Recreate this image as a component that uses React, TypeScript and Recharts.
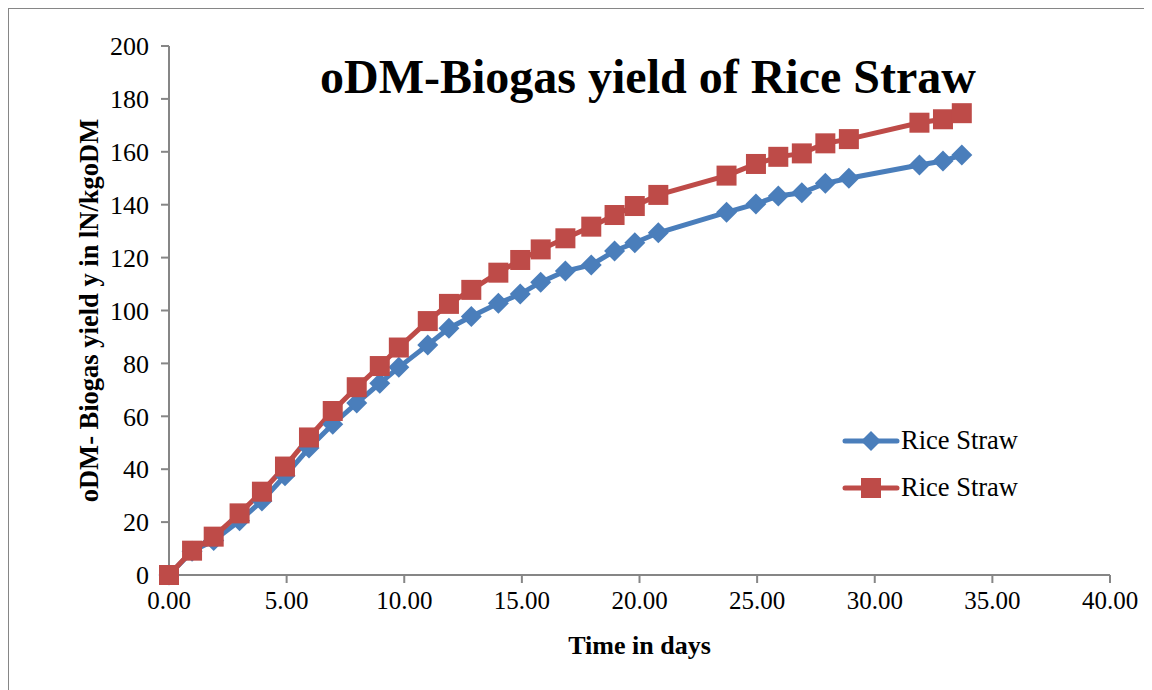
import { LineChart, Line, XAxis, YAxis } from "recharts";

const days = [
  0, 0.98, 1.9, 3.0, 3.95, 4.93, 5.95, 6.96, 7.98, 8.96, 9.77, 11.0, 11.9, 12.85, 14.0, 14.93,
  15.8, 16.85, 17.95, 18.94, 19.8, 20.8, 23.7, 24.95, 25.9, 26.9, 27.9, 28.9, 31.9, 32.9, 33.7,
];
const blueYield = [
  0, 9, 13, 20.5, 28, 37.5, 48, 57, 65, 72.5, 78.5, 87, 93.3, 97.7, 102.7, 106.2, 110.7, 114.9,
  117.2, 122.5, 125.6, 129.4, 137.1, 140.3, 143.3, 144.5, 148.1, 150, 155, 156.5, 158.8,
];
const redYield = [
  0, 9.2, 14.5, 23.3, 31.5, 41, 52, 62, 71, 79, 86, 96, 102.5, 107.8, 114.3, 119.1, 123.1, 127.3,
  131.7, 136.1, 139.5, 143.7, 151, 155.4, 158.1, 159.4, 163.2, 164.8, 171, 172.3, 174.6,
];
const xTicks = [0, 5, 10, 15, 20, 25, 30, 35, 40];
const yTicks = [0, 20, 40, 60, 80, 100, 120, 140, 160, 180, 200];

const data = days.map((d, i) => ({ day: d, blue: blueYield[i], red: redYield[i] }));

const BLUE = "#4a7ebb";
const RED = "#be4b48";
const AXIS = "#868686";
const FONT = '"Liberation Serif", "Times New Roman", serif';

function Diamond({ cx, cy }: { cx?: number; cy?: number }) {
  if (cx == null || cy == null) return null;
  const r = 10.5;
  return (
    <polygon
      points={`${cx},${cy - r} ${cx + r},${cy} ${cx},${cy + r} ${cx - r},${cy}`}
      fill={BLUE}
    />
  );
}

function Square({ cx, cy }: { cx?: number; cy?: number }) {
  if (cx == null || cy == null) return null;
  return <rect x={cx - 10} y={cy - 10} width={20} height={20} fill={RED} />;
}

function LegendBox() {
  const rows = [
    { color: BLUE, shape: "diamond" },
    { color: RED, shape: "square" },
  ];
  return (
    <div style={{ fontFamily: FONT, fontSize: 26.5, color: "#000" }}>
      {rows.map((r) => (
        <div key={r.shape} style={{ display: "flex", alignItems: "center", height: 47 }}>
          <svg width={58} height={22} style={{ marginRight: 1 }}>
            <line x1={3} y1={11} x2={55} y2={11} stroke={r.color} strokeWidth={5} strokeLinecap="round" />
            {r.shape === "diamond" ? (
              <polygon points="29,1 39,11 29,21 19,11" fill={r.color} />
            ) : (
              <rect x={19} y={1} width={20} height={20} fill={r.color} />
            )}
          </svg>
          <span>Rice Straw</span>
        </div>
      ))}
    </div>
  );
}

export default function App() {
  return (
    <div
      style={{
        position: "relative",
        width: 1141,
        height: 700,
        border: `1px solid ${AXIS}`,
        background: "#fff",
        fontFamily: FONT,
      }}
    >
      <div
        style={{
          position: "absolute",
          left: 0,
          width: 1278,
          top: 40,
          textAlign: "center",
          fontSize: 48,
          fontWeight: "bold",
          lineHeight: "56px",
          color: "#000",
          zIndex: 2,
        }}
      >
        oDM-Biogas yield of Rice Straw
      </div>
      <div style={{ position: "absolute", left: 833, top: 408, zIndex: 2 }}>
        <LegendBox />
      </div>
      <LineChart
        width={1141}
        height={680}
        data={data}
        margin={{ top: 37, right: 40, left: 0, bottom: 34 }}
      >
        <XAxis
          dataKey="day"
          type="number"
          domain={[0, 40]}
          ticks={xTicks}
          tickFormatter={(v: number) => v.toFixed(2)}
          stroke={AXIS}
          strokeWidth={2}
          tickSize={8}
          tickMargin={8}
          tick={{ fill: "#000", fontSize: 25, fontFamily: FONT }}
          height={80}
          label={{
            content: ({ viewBox }: any) => (
              <text
                x={viewBox.x + viewBox.width / 2}
                y={viewBox.y + 79}
                textAnchor="middle"
                fontFamily={FONT}
                fontSize={26}
                fontWeight="bold"
                fill="#000"
              >
                Time in days
              </text>
            ),
          }}
        />
        <YAxis
          type="number"
          domain={[0, 200]}
          ticks={yTicks}
          stroke={AXIS}
          strokeWidth={2}
          tickSize={8}
          tickMargin={12}
          width={160}
          tick={{ fill: "#000", fontSize: 26, fontFamily: FONT }}
          label={{
            content: ({ viewBox }: any) => {
              const cx = 80;
              const cy = viewBox.y + viewBox.height / 2;
              return (
                <text
                  x={cx}
                  y={cy}
                  transform={`rotate(-90 ${cx} ${cy})`}
                  textAnchor="middle"
                  dominantBaseline="central"
                  fontFamily={FONT}
                  fontSize={26.5}
                  fontWeight="bold"
                  fill="#000"
                >
                  oDM- Biogas yield y in lN/kgoDM
                </text>
              );
            },
          }}
        />
        <Line
          type="linear"
          dataKey="blue"
          name="Rice Straw"
          stroke={BLUE}
          strokeWidth={5}
          dot={<Diamond />}
          activeDot={false}
          isAnimationActive={false}
        />
        <Line
          type="linear"
          dataKey="red"
          name="Rice Straw"
          stroke={RED}
          strokeWidth={5}
          dot={<Square />}
          activeDot={false}
          isAnimationActive={false}
        />
      </LineChart>
    </div>
  );
}
